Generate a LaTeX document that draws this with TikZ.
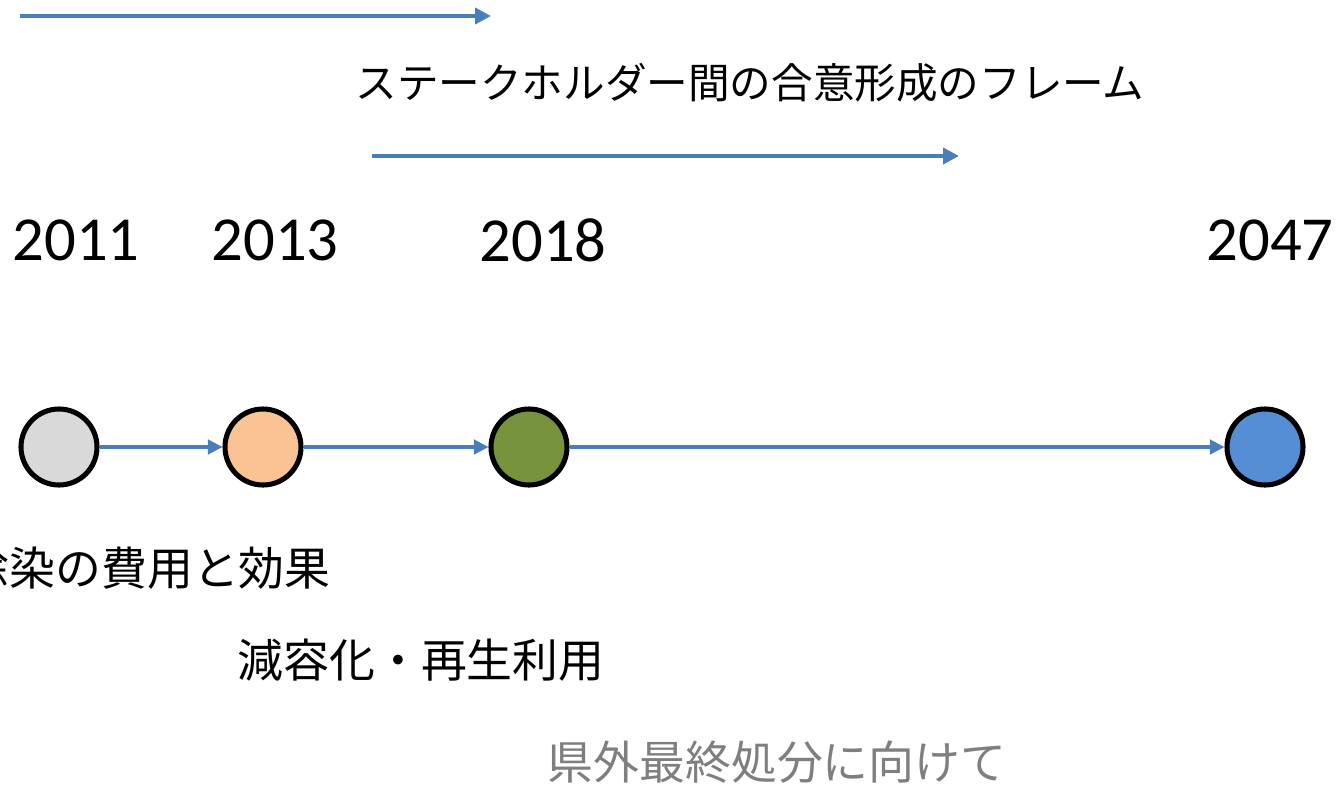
\documentclass[tikz,border=0pt]{standalone}
\usepackage{fontspec}
\setmainfont{Carlito}
\newfontfamily\jp{Noto Sans CJK JP}
\usetikzlibrary{arrows.meta}
\definecolor{arrowblue}{HTML}{4A7EBB}
\definecolor{cgray}{HTML}{D9D9D9}
\definecolor{corange}{HTML}{F9C393}
\definecolor{cgreen}{HTML}{77933C}
\definecolor{cblue}{HTML}{558ED5}
\definecolor{tgray}{HTML}{7F7F7F}
\tikzset{
  bigarrow/.style={draw=arrowblue, line width=3.2pt, -{Triangle[length=12pt,width=12pt]}},
  linkarrow/.style={draw=arrowblue, line width=2.3pt, -{Triangle[length=11pt,width=11pt]}},
  dot/.style={circle, draw=black, line width=3.8pt, minimum size=57pt, inner sep=0pt},
  year/.style={inner sep=0pt, font=\fontsize{47}{56}\selectfont},
  jtitle/.style={inner sep=0pt, font=\jp\fontsize{31.2}{38}\selectfont},
  jlabel/.style={inner sep=0pt, font=\jp\fontsize{34.4}{41}\selectfont},
}
\begin{document}
\begin{tikzpicture}[x=0.75pt,y=-0.75pt]
\useasboundingbox (0,0) rectangle (1342,789);
% top arrows
\coordinate (a1s) at (20,16);
\coordinate (a1e) at (491,16);
\draw[bigarrow] (a1s) -- (a1e);
\node[jtitle] (title) at (750,83) {ステークホルダー間の合意形成のフレーム};
\coordinate (a2s) at (372,156);
\coordinate (a2e) at (959,156);
\draw[bigarrow] (a2s) -- (a2e);
% years
\node[year] (y1) at (76,240) {2011};
\node[year] (y2) at (275,240) {2013};
\node[year] (y3) at (543,240) {2018};
\node[year] (y4) at (1270,240) {2047};
% circles
\node[dot, fill=cgray] (c1) at (59,447) {};
\node[dot, fill=corange] (c2) at (263,447) {};
\node[dot, fill=cgreen] (c3) at (529,447) {};
\node[dot, fill=cblue] (c4) at (1265,447) {};
\draw[linkarrow] (c1) -- (c2);
\draw[linkarrow] (c2) -- (c3);
\draw[linkarrow] (c3) -- (c4);
% labels
\node[jlabel, anchor=east] (l1) at (331,568) {除染の費用と効果};
\node[jlabel] (l2) at (421,660) {減容化・再生利用};
\node[jlabel, text=tgray] (l3) at (777,762) {県外最終処分に向けて};
\end{tikzpicture}
\end{document}
